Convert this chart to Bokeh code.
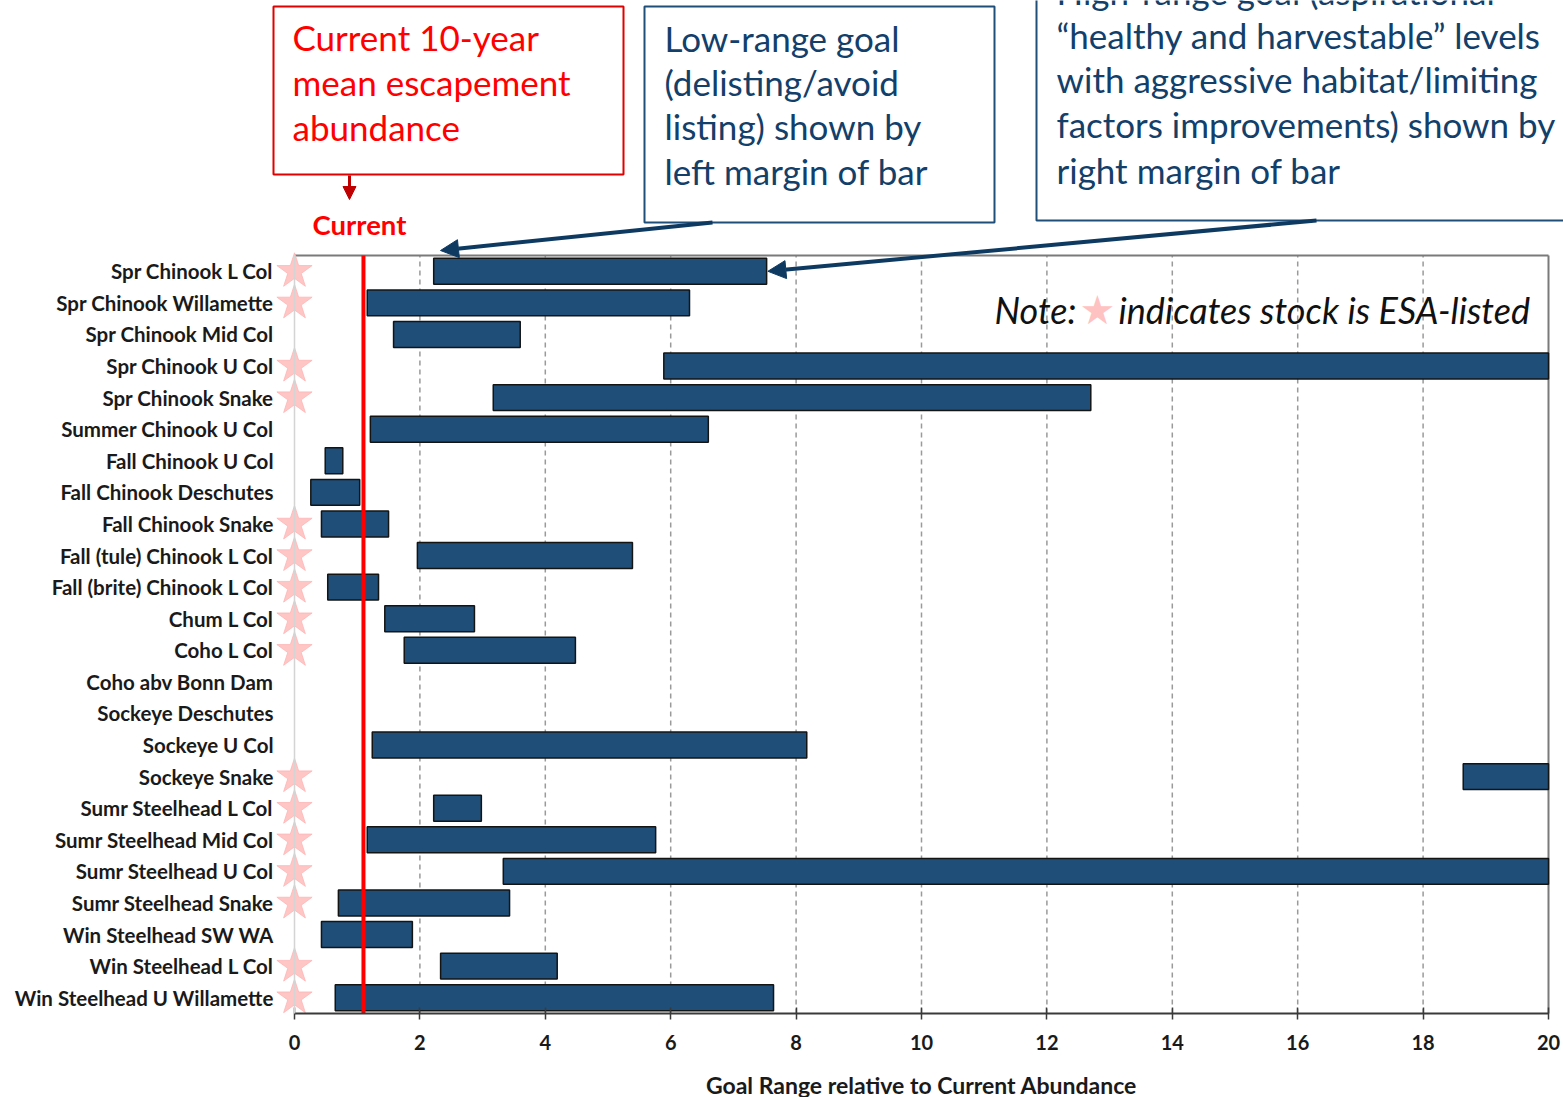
from bokeh.plotting import figure
from bokeh.models import (Range1d, ColumnDataSource, Label, LinearAxis,
                          BoxAnnotation, Arrow, NormalHead, FixedTicker)
from bokeh.embed import file_html
from bokeh.resources import INLINE

# ---------------- data ----------------
stocks = [
    "Spr Chinook L Col", "Spr Chinook Willamette", "Spr Chinook Mid Col",
    "Spr Chinook U Col", "Spr Chinook Snake", "Summer Chinook U Col",
    "Fall Chinook U Col", "Fall Chinook Deschutes", "Fall Chinook Snake",
    "Fall (tule) Chinook L Col", "Fall (brite) Chinook L Col", "Chum L Col",
    "Coho L Col", "Coho abv Bonn Dam", "Sockeye Deschutes", "Sockeye U Col",
    "Sockeye Snake", "Sumr Steelhead L Col", "Sumr Steelhead Mid Col",
    "Sumr Steelhead U Col", "Sumr Steelhead Snake", "Win Steelhead SW WA",
    "Win Steelhead L Col", "Win Steelhead U Willamette",
]
low_goal = [2.22, 1.16, 1.58, 5.89, 3.17, 1.21, 0.49, 0.26, 0.43, 1.96, 0.53, 1.44,
            1.75, None, None, 1.24, 18.64, 2.22, 1.16, 3.33, 0.70, 0.43, 2.33, 0.65]
high_goal = [7.53, 6.30, 3.60, 20.0, 12.7, 6.60, 0.77, 1.04, 1.50, 5.39, 1.34, 2.87,
             4.48, None, None, 8.17, 20.0, 2.98, 5.76, 20.0, 3.43, 1.88, 4.19, 7.64]
esa_listed = [True, True, False, True, True, False, False, False, True, True, True, True,
              True, False, False, False, True, True, True, True, True, False, True, True]
current_level = 1.1
x_ticks = [0, 2, 4, 6, 8, 10, 12, 14, 16, 18, 20]

# ---------------- layout (canvas pixels) ----------------
W, H = 1563, 1097
FRAME_L, FRAME_T, FRAME_R, FRAME_B = 294, 255, 1548, 1013
N = len(stocks)
PX_PER_X = (FRAME_R - FRAME_L) / (x_ticks[-1] - x_ticks[0])
PX_PER_Y = (FRAME_B - FRAME_T) / N
Y_TOP, Y_BOT = N - 0.5, -0.5


def X(px):  # canvas pixel -> data x
    return x_ticks[0] + (px - FRAME_L) / PX_PER_X


def Y(py):  # canvas pixel -> data y
    return Y_TOP - (py - FRAME_T) / PX_PER_Y


y_pos = [N - 1 - i for i in range(N)]
bar_idx = [i for i in range(N) if low_goal[i] is not None]
bar_src = ColumnDataSource(dict(y=[y_pos[i] for i in bar_idx],
                                low=[low_goal[i] for i in bar_idx],
                                high=[high_goal[i] for i in bar_idx]))
star_idx = [i for i in range(N) if esa_listed[i]]
star_src = ColumnDataSource(dict(x=[x_ticks[0]] * len(star_idx), y=[y_pos[i] for i in star_idx]))

p = figure(width=W, height=H, frame_width=W, frame_height=H,
           x_range=Range1d(X(0), X(W)), y_range=Range1d(Y(H), Y(0)),
           min_border=0, min_border_left=0, min_border_right=0,
           min_border_top=0, min_border_bottom=0,
           x_axis_location=None, y_axis_location=None,
           output_backend="svg", toolbar_location=None,
           background_fill_color="white", border_fill_color="white",
           outline_line_color=None)
p.xgrid.visible = False
p.ygrid.visible = False

# dashed vertical grid lines (only inside the plot box)
grid_x = x_ticks[1:-1]
p.segment(x0=grid_x, y0=[Y_BOT] * len(grid_x), x1=grid_x, y1=[Y_TOP] * len(grid_x),
          line_color="#9a9a9a", line_dash="5 4", line_width=1.5)

# plot box: top and right edges
p.segment(x0=[x_ticks[0], x_ticks[-1]], y0=[Y_TOP, Y_TOP],
          x1=[x_ticks[-1], x_ticks[-1]], y1=[Y_TOP, Y_BOT],
          line_color="#7a7a7a", line_width=2)

# bars
p.hbar(y="y", left="low", right="high", height=0.82, source=bar_src,
       fill_color="#1f4e79", line_color="#141414", line_width=1.5)

# current line
p.segment(x0=[current_level], y0=[Y_BOT], x1=[current_level], y1=[Y_TOP],
          line_color="#ff0000", line_width=4)

# ESA stars
p.scatter(x="x", y="y", source=star_src, marker="star", size=37,
          fill_color="#ffc6c6", line_color="#ffb4b4", line_width=0.8)

# x axis (drawn at the bottom of the plot box)
xa = LinearAxis(fixed_location=Y_BOT, bounds=(x_ticks[0], x_ticks[-1]),
                ticker=FixedTicker(ticks=x_ticks))
xa.axis_line_color = "#3a3a3a"
xa.axis_line_width = 2
xa.major_tick_line_color = "#3a3a3a"
xa.major_tick_line_width = 1.5
xa.major_tick_out = 6
xa.major_tick_in = 6
xa.minor_tick_line_color = None
xa.major_label_standoff = 15
xa.major_label_text_font = "Lato"
xa.major_label_text_font_style = "bold"
xa.major_label_text_font_size = "20px"
xa.major_label_text_color = "#1a1a1a"
xa.axis_label = "Goal Range relative to Current Abundance"
xa.axis_label_text_font = "Lato"
xa.axis_label_text_font_style = "bold"
xa.axis_label_text_font_size = "23px"
xa.axis_label_text_color = "#1a1a1a"
xa.axis_label_standoff = 18
p.add_layout(xa, "below")

# y axis (stock names)
ya = LinearAxis(fixed_location=x_ticks[0], bounds=(Y_BOT, Y_TOP),
                ticker=FixedTicker(ticks=y_pos),
                major_label_overrides={y: s for y, s in zip(y_pos, stocks)})
ya.axis_line_color = "#d4d4d4"
ya.axis_line_width = 1.5
ya.major_tick_line_color = None
ya.major_tick_out = 0
ya.major_tick_in = 0
ya.minor_tick_line_color = None
ya.major_label_standoff = 21
ya.major_label_text_font = "Lato"
ya.major_label_text_font_style = "bold"
ya.major_label_text_font_size = "20.5px"
ya.major_label_text_color = "#1a1a1a"
p.add_layout(ya, "left")

# ---------------- annotations ----------------
RED = "#ff0000"
NAVY_TXT = "#12406a"
NAVY_BOX = "#1f4e79"
ARROW = "#0e3a62"
FS = "35px"

# red box
p.add_layout(BoxAnnotation(left=X(273), right=X(623), top=Y(6), bottom=Y(174),
                           fill_color="white", fill_alpha=1, line_color="#e00000",
                           line_width=2, line_alpha=1))
for t, cy in zip(["Current 10-year", "mean escapement", "abundance"], [36, 81, 126]):
    p.add_layout(Label(x=X(292), y=Y(cy), text=t, text_align="left", text_baseline="middle",
                       text_font="Lato", text_font_size=FS, text_color=RED))

# low-range box
p.add_layout(BoxAnnotation(left=X(644), right=X(994), top=Y(6), bottom=Y(222),
                           fill_color="white", fill_alpha=1, line_color=NAVY_BOX,
                           line_width=2, line_alpha=1))
for t, cy in zip(["Low-range goal", "(delisting/avoid", "listing) shown by", "left margin of bar"],
                 [37, 81, 125, 170]):
    p.add_layout(Label(x=X(664), y=Y(cy), text=t, text_align="left", text_baseline="middle",
                       text_font="Lato", text_font_size=FS, text_color=NAVY_TXT))

# high-range box
p.add_layout(BoxAnnotation(left=X(1036), right=X(1600), top=Y(-40), bottom=Y(220),
                           fill_color="white", fill_alpha=1, line_color=NAVY_BOX,
                           line_width=2, line_alpha=1))
for t, cy in zip(["High-range goal (aspirational", "\u201chealthy and harvestable\u201d levels",
                  "with aggressive habitat/limiting", "factors improvements) shown by",
                  "right margin of bar"],
                 [-10, 34, 78, 123, 169]):
    p.add_layout(Label(x=X(1056), y=Y(cy), text=t, text_align="left", text_baseline="middle",
                       text_font="Lato", text_font_size=FS, text_color=NAVY_TXT))

# arrows
p.add_layout(Arrow(x_start=X(349), y_start=Y(175), x_end=X(349), y_end=Y(199),
                   line_color="#c00000", line_width=3,
                   end=NormalHead(size=13, fill_color="#c00000", line_color="#c00000")))
p.add_layout(Arrow(x_start=X(712), y_start=Y(222), x_end=X(440), y_end=Y(250),
                   line_color=ARROW, line_width=4,
                   end=NormalHead(size=18, fill_color=ARROW, line_color=ARROW)))
p.add_layout(Arrow(x_start=X(1316), y_start=Y(220), x_end=high_goal[0] + 0.02, y_end=y_pos[0],
                   line_color=ARROW, line_width=4,
                   end=NormalHead(size=18, fill_color=ARROW, line_color=ARROW)))

# "Current" label
p.add_layout(Label(x=current_level, y=Y(224), text="Current", text_align="center",
                   text_baseline="middle", text_font="Lato", text_font_style="bold",
                   text_font_size="27.5px", text_color=RED, x_offset=-4))

# Note
p.add_layout(Label(x=X(1076), y=Y(309), text="Note:", text_align="right", text_baseline="middle",
                   text_font="Lato", text_font_style="italic", text_font_size="36px",
                   text_color="#111111"))
p.add_layout(Label(x=X(1097), y=Y(309), text="\u2605", text_align="center", text_baseline="middle",
                   text_font="DejaVu Sans", text_font_size="40px", text_color="#ffc2c2"))
p.add_layout(Label(x=X(1118), y=Y(309), text="indicates stock is ESA-listed", text_align="left",
                   text_baseline="middle", text_font="Lato", text_font_style="italic",
                   text_font_size="36px", text_color="#111111"))

open("out.html", "w").write(file_html(p, INLINE))
